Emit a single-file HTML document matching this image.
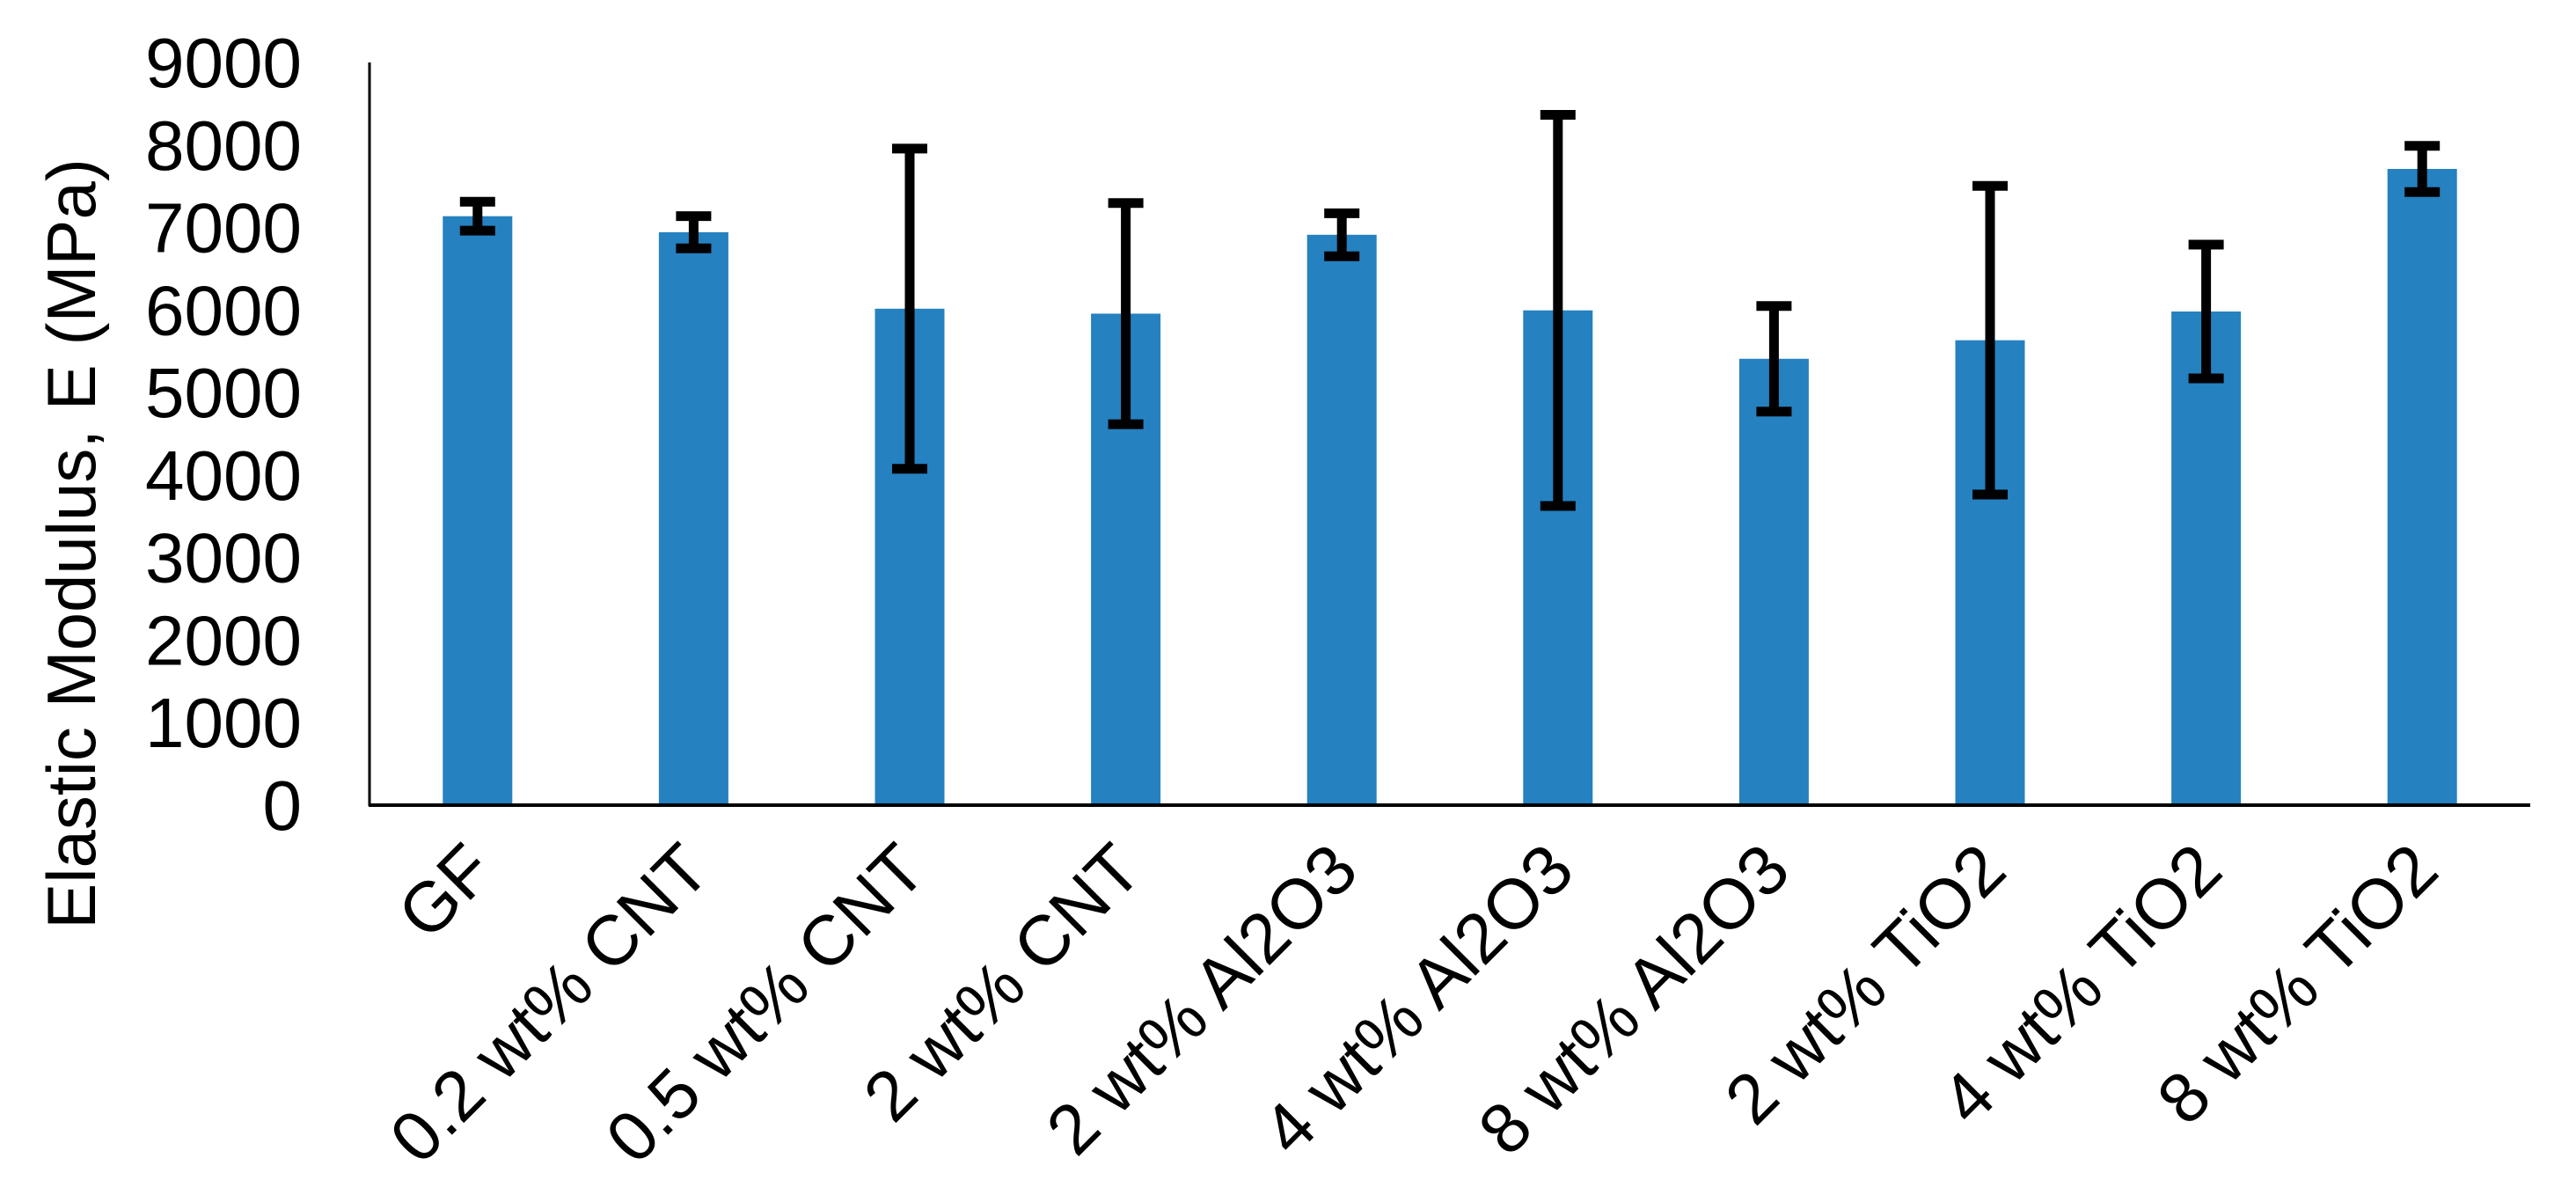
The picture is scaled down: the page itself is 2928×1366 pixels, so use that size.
<!DOCTYPE html>
<html><head><meta charset="utf-8"><style>
html,body{margin:0;padding:0;background:#fff;}
svg{display:block;font-family:"Liberation Sans",Arial,sans-serif;}
</style></head><body>
<svg id="chart" width="2928" height="1366" viewBox="0 0 2928 1366" xmlns="http://www.w3.org/2000/svg">
<g id="yticks"></g>
<g id="bars"></g>
<g id="errs"></g>
<g id="xlabels"></g>
<line x1="420" y1="71" x2="420" y2="916" stroke="#000" stroke-width="3"/>
<line x1="419" y1="915" x2="2876" y2="915" stroke="#000" stroke-width="4"/>
<text transform="translate(108,618) rotate(-90)" text-anchor="middle" font-size="78">Elastic Modulus, E (MPa)</text>
</svg>
<script>
const categories = ["GF","0.2 wt% CNT","0.5 wt% CNT","2 wt% CNT","2 wt% Al2O3","4 wt% Al2O3","8 wt% Al2O3","2 wt% TiO2","4 wt% TiO2","8 wt% TiO2"];
const values = [7137, 6943, 6016, 5956, 6912, 5996, 5409, 5634, 5982, 7710];
const errors = [175, 195, 1940, 1340, 260, 2370, 640, 1870, 810, 280];
const yTicks = [0,1000,2000,3000,4000,5000,6000,7000,8000,9000];

const NS = "http://www.w3.org/2000/svg";
const left = 420, right = 2876, y0 = 915, yTop = 71, yMax = 9000;
const band = (right - left) / categories.length;
const barW = 79;
function yScale(v){ return y0 - (v / yMax) * (y0 - yTop); }
function xCenter(i){ return left + band * (i + 0.5); }
function mk(tag, attrs, parent){
  const e = document.createElementNS(NS, tag);
  for (const k in attrs) e.setAttribute(k, attrs[k]);
  parent.appendChild(e);
  return e;
}
const gT = document.getElementById('yticks');
yTicks.forEach(t => {
  const el = mk('text', {x: 343, y: yScale(t) + 28, 'text-anchor': 'end', 'font-size': 80}, gT);
  
  
  el.textContent = t;
});
const gB = document.getElementById('bars');
const gE = document.getElementById('errs');
const gL = document.getElementById('xlabels');
categories.forEach((c, i) => {
  const cx = xCenter(i);
  const top = yScale(values[i]);
  const r = mk('rect', {x: cx - barW/2, y: top, width: barW, height: y0 - top, fill: '#2581c0'}, gB);
  
  
  const hi = yScale(values[i] + errors[i]), lo = yScale(values[i] - errors[i]);
  const g = mk('g', {stroke: '#000', 'stroke-width': 11}, gE);
  
  
  mk('line', {x1: cx, y1: hi, x2: cx, y2: lo}, g);
  mk('line', {x1: cx - 20, y1: hi, x2: cx + 20, y2: hi}, g);
  mk('line', {x1: cx - 20, y1: lo, x2: cx + 20, y2: lo}, g);
  const t = mk('text', {transform: `translate(${cx + 22},${y0 + 78}) rotate(-45)`, 'text-anchor': 'end', 'font-size': 80}, gL);
  
  
  t.textContent = c;
});
</script>
</body></html>
